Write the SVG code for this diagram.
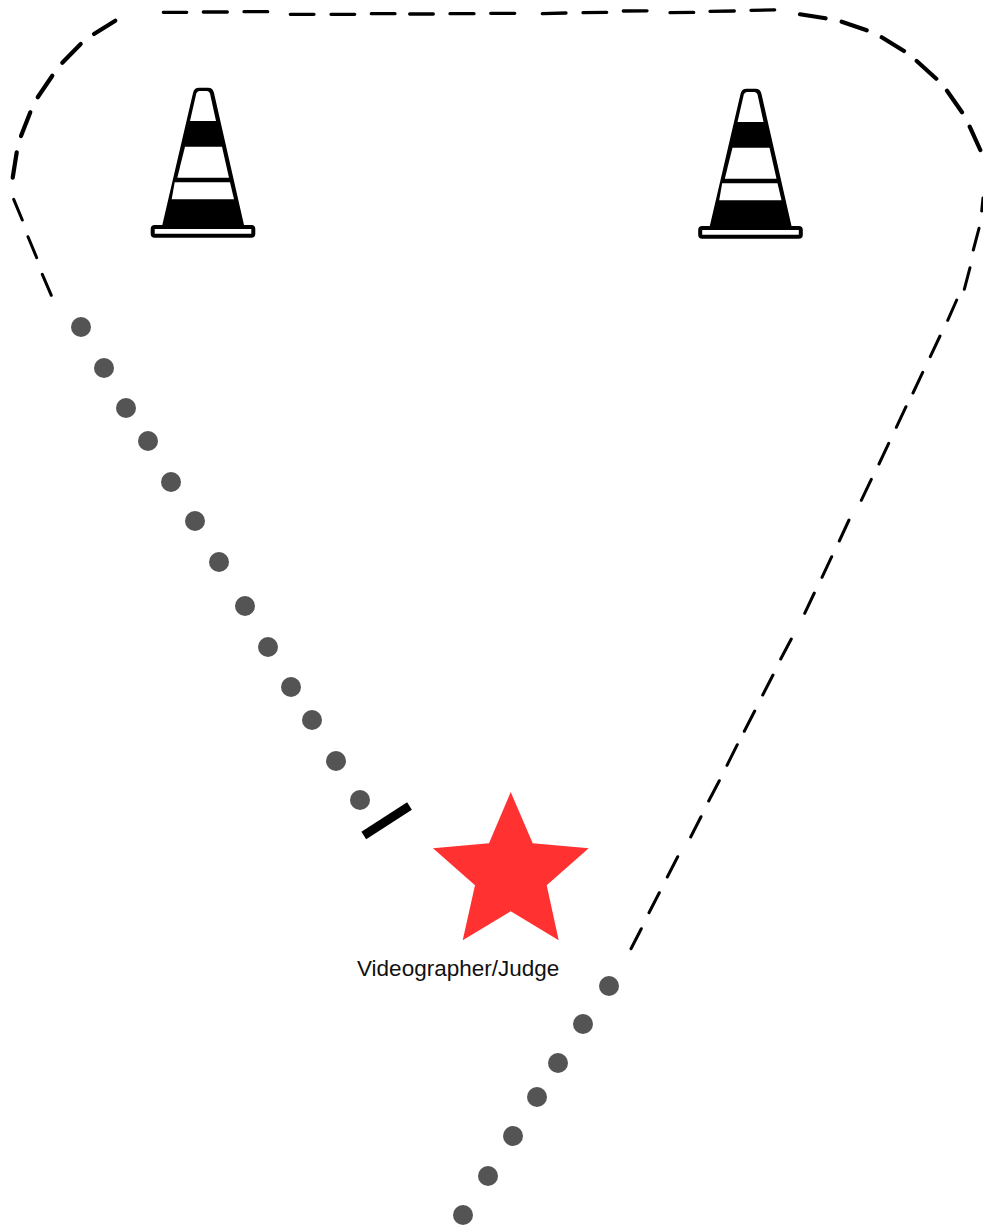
<svg xmlns="http://www.w3.org/2000/svg" xmlns:xlink="http://www.w3.org/1999/xlink" width="983" height="1226" viewBox="0 0 983 1226">
<style>
.thick{stroke:#000;stroke-width:4.2;stroke-linecap:round;fill:none}
.mid{stroke:#000;stroke-width:3.3;stroke-linecap:round;fill:none}
.thin{stroke:#000;stroke-width:3;stroke-linecap:round;fill:none}
.dot{fill:#545454}
.lbl{font-family:"Liberation Sans",Arial,sans-serif;font-size:22.5px;fill:#111}
</style>
<defs>
<g id="cone-shape">
<path d="M162.3 225 L193 93 Q194 87.7 199 87.7 H208 Q213 87.7 214 93 L244 225Z" fill="#000"/>
<path d="M190 121 L196.3 93.5 Q197 91 199.5 91 H207 Q209.3 91 210 93.5 L216 121Z" fill="#fff"/>
<path d="M185 146.7 H222 L229 177.7 H177.3Z" fill="#fff"/>
<path d="M174.7 182.3 H230 L234 199.3 H171.7Z" fill="#fff"/>
<rect x="152.7" y="227" width="100.6" height="8.7" rx="2" fill="#fff" stroke="#000" stroke-width="4"/>
</g>
</defs>
<rect width="983" height="1226" fill="#fff"/>
<g id="connectors">
<path class="thick" d="M115.3 20.7L94 34M80.7 44L62.3 62.7M52.3 75.7L37.7 97.3M30.3 112.3L21 136M16.7 152.3L12.7 177.7"/>
<path class="thin" d="M13.7 199.3L22.3 220M28 236.7L36.7 257.7M42.3 274.3L51.3 295.3"/>
<path class="mid" d="M163.3 12.3H186.7M203.3 12H227.3M244 11.7H267.7M290.3 14.3H314M331 14.3H354.7M371.3 13.7H395M409.7 14H433.3M450 13.7H474M490.7 13.3H514.7M542.3 13.7L566 13M583 12.7L606.7 12.3M623.3 11L647 10.8M670 12.7L693.7 12.4M710 11.3L734.3 11M751 10.3L774.7 9.8"/>
<path class="thick" d="M800 14.3L825.5 18.3M841.7 21.7L866.7 30.3M881.7 37.3L904 51M916.7 61L936.3 78.7M947 90.7L962 112.3M969.7 126.7L980.3 150"/>
<path class="thin" d="M983 198L981.7 211M979 228.3L973.3 250M970 267.7L964.3 289.3M956.7 300L947.7 320.3M940 336L930.3 356.7M922.7 372.3L913 393M906 406.7L896.3 427.3M888.7 443.3L879 464M871.3 479.3L861.3 500.3M849 520L839.3 541M831.7 556.7L822 577.3M814.3 593L804.7 613.3M791.3 639L780.7 659M773 675L762.7 695M754.7 711L744.3 731.3M737.3 744.7L727 765.3M719.3 780.7L708.7 801M701 816.7L690.7 837M677.7 856.7L667.3 877M659.3 892.7L649 912.7M641.3 928.7L631 948.7"/>
</g>
<g id="dots-left">
<circle class="dot" cx="81" cy="327" r="10"/><circle class="dot" cx="104" cy="368" r="10"/><circle class="dot" cx="126" cy="408" r="10"/><circle class="dot" cx="148" cy="441" r="10"/><circle class="dot" cx="171" cy="482" r="10"/><circle class="dot" cx="195" cy="521" r="10"/><circle class="dot" cx="219" cy="562" r="10"/><circle class="dot" cx="245" cy="606" r="10"/><circle class="dot" cx="268" cy="647" r="10"/><circle class="dot" cx="291" cy="687" r="10"/><circle class="dot" cx="312" cy="720" r="10"/><circle class="dot" cx="336" cy="761" r="10"/><circle class="dot" cx="360" cy="800" r="10"/>
</g>
<g id="dots-right">
<circle class="dot" cx="609" cy="986" r="10"/><circle class="dot" cx="583" cy="1024" r="10"/><circle class="dot" cx="558" cy="1063" r="10"/><circle class="dot" cx="537" cy="1097" r="10"/><circle class="dot" cx="513" cy="1136" r="10"/><circle class="dot" cx="488" cy="1176" r="10"/><circle class="dot" cx="463" cy="1215" r="10"/>
</g>
<g id="cone-left"><use href="#cone-shape" xlink:href="#cone-shape"/></g>
<g id="cone-right"><use href="#cone-shape" xlink:href="#cone-shape" transform="translate(547.5 1)"/></g>
<g id="bar"><line x1="363.8" y1="835.5" x2="409.5" y2="806" stroke="#000" stroke-width="8.8"/></g>
<g id="judge">
<polygon points="510.7,792 532.7,843.3 588.7,848.3 546.7,885.3 558.7,940.3 510.7,911.3 462.7,940.3 475,885.3 433,848.3 489,843.3" fill="#ff3131"/>
<text class="lbl" x="357" y="976">Videographer/Judge</text>
</g>
</svg>
